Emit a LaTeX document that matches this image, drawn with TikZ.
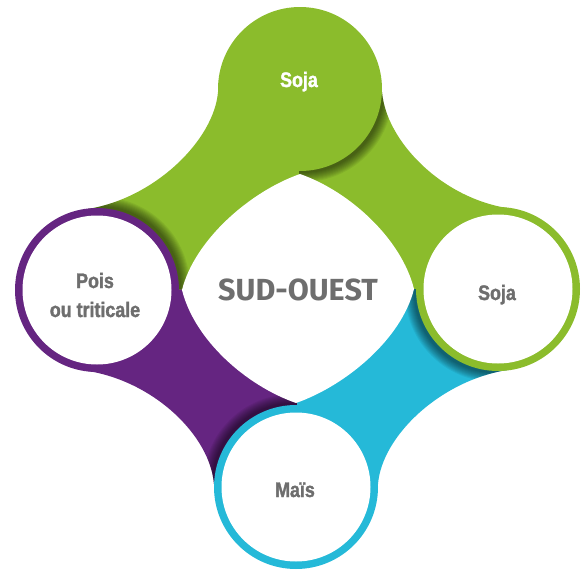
\documentclass[tikz,border=0pt]{standalone}
\usepackage{fontspec}
\setmainfont{Liberation Sans}
\newfontfamily\narrowfont[FakeStretch=0.85,FakeBold=1.6]{Liberation Sans Bold}
\newfontfamily\titlefont{Fira Sans}
\usetikzlibrary{calc}
\definecolor{vertsoja}{HTML}{8BBC2C}
\definecolor{bleumais}{HTML}{25B9D8}
\definecolor{violetpois}{HTML}{652581}
\definecolor{gristxt}{HTML}{6E6E6E}
% les quatre zones colorees entre les cercles
\newcommand\zoneTL{(T) -- ($(T)+(-82,3)$) .. controls ($(T)+(-86,51)$) and ($(L)+(58,-92)$) .. ($(L)+(-9,-81)$) -- (L) -- (C) -- cycle}
\newcommand\zoneTR{(T) -- ($(T)+(82,3)$) .. controls ($(T)+(86,51)$) and ($(R)+(-58,-92)$) .. ($(R)+(9,-81)$) -- (R) -- (C) -- cycle}
\newcommand\zoneBR{(R) -- ($(R)+(9,81)$) .. controls ($(R)+(-58,92)$) and ($(B)+(86,-51)$) .. ($(B)+(82,-3)$) -- (B) -- (C) -- cycle}
\newcommand\zoneBL{(B) -- ($(B)+(-82,-3)$) .. controls ($(B)+(-86,-51)$) and ($(L)+(58,92)$) .. ($(L)+(-9,81)$) -- (L) -- (C) -- cycle}
\tikzset{
  lbl/.style={font=\narrowfont\fontsize{21}{29}\selectfont, text=gristxt, align=center},
  ombre/.style={black, opacity=0.06},
}
\begin{document}
\begin{tikzpicture}[x=1pt, y=-1pt]
  \useasboundingbox (0,0) rectangle (587,573);
  \coordinate (C) at (298,289);
  \coordinate (T) at (300,89);
  \coordinate (R) at (498,289);
  \coordinate (B) at (296,487);
  \coordinate (L) at (97,290);
  % zones
  \fill[vertsoja] \zoneTL;
  \fill[vertsoja] \zoneTR;
  \fill[bleumais] \zoneBR;
  \fill[violetpois] \zoneBL;
  % ombres portees
  \begin{scope}
    \clip \zoneTR;
    \foreach \i in {1,...,10} \fill[ombre] ($(T)+(3,3)$) circle (80+\i);
  \end{scope}
  \begin{scope}
    \clip \zoneBR;
    \foreach \i in {1,...,10} \fill[ombre] ($(R)+(-3,3)$) circle (80+\i);
  \end{scope}
  \begin{scope}
    \clip \zoneBL;
    \foreach \i in {1,...,10} \fill[ombre] ($(B)+(-3,-3)$) circle (80+\i);
  \end{scope}
  \begin{scope}
    \clip \zoneTL;
    \foreach \i in {1,...,10} \fill[ombre] ($(L)+(3,-3)$) circle (80+\i);
  \end{scope}
  % cercles
  \fill[vertsoja] (T) circle (82);
  \foreach \c/\col in {R/vertsoja, B/bleumais, L/violetpois} {
    \fill[\col] (\c) circle (82);
    \fill[white] (\c) circle (74.5);
  }
  % centre
  \coordinate (Kt) at (300,174);
  \coordinate (Kr) at (414,289);
  \coordinate (Kb) at (296,403);
  \coordinate (Kl) at (182,290);
  \fill[white] (Kt) .. controls +(50,17.5) and +(-12.5,-50) .. (Kr)
    .. controls +(-12.5,50) and +(50,-17.5) .. (Kb)
    .. controls +(-50,-17.5) and +(12.5,50) .. (Kl)
    .. controls +(12.5,-50) and +(-50,17.5) .. (Kt) -- cycle;
  % textes
  \node[font=\titlefont\bfseries\fontsize{30.5}{36}\selectfont, text=gristxt] (titre) at (298,290) {SUD-OUEST};
  \node[lbl, anchor=base, text=white] (soja1) at (299,87) {Soja};
  \node[lbl, anchor=base] (soja2) at (497,300) {Soja};
  \node[lbl, anchor=base] (mais) at (295,497) {Maïs};
  \node[lbl] (pois) at (95,295) {Pois\\ou triticale};
\end{tikzpicture}
\end{document}
